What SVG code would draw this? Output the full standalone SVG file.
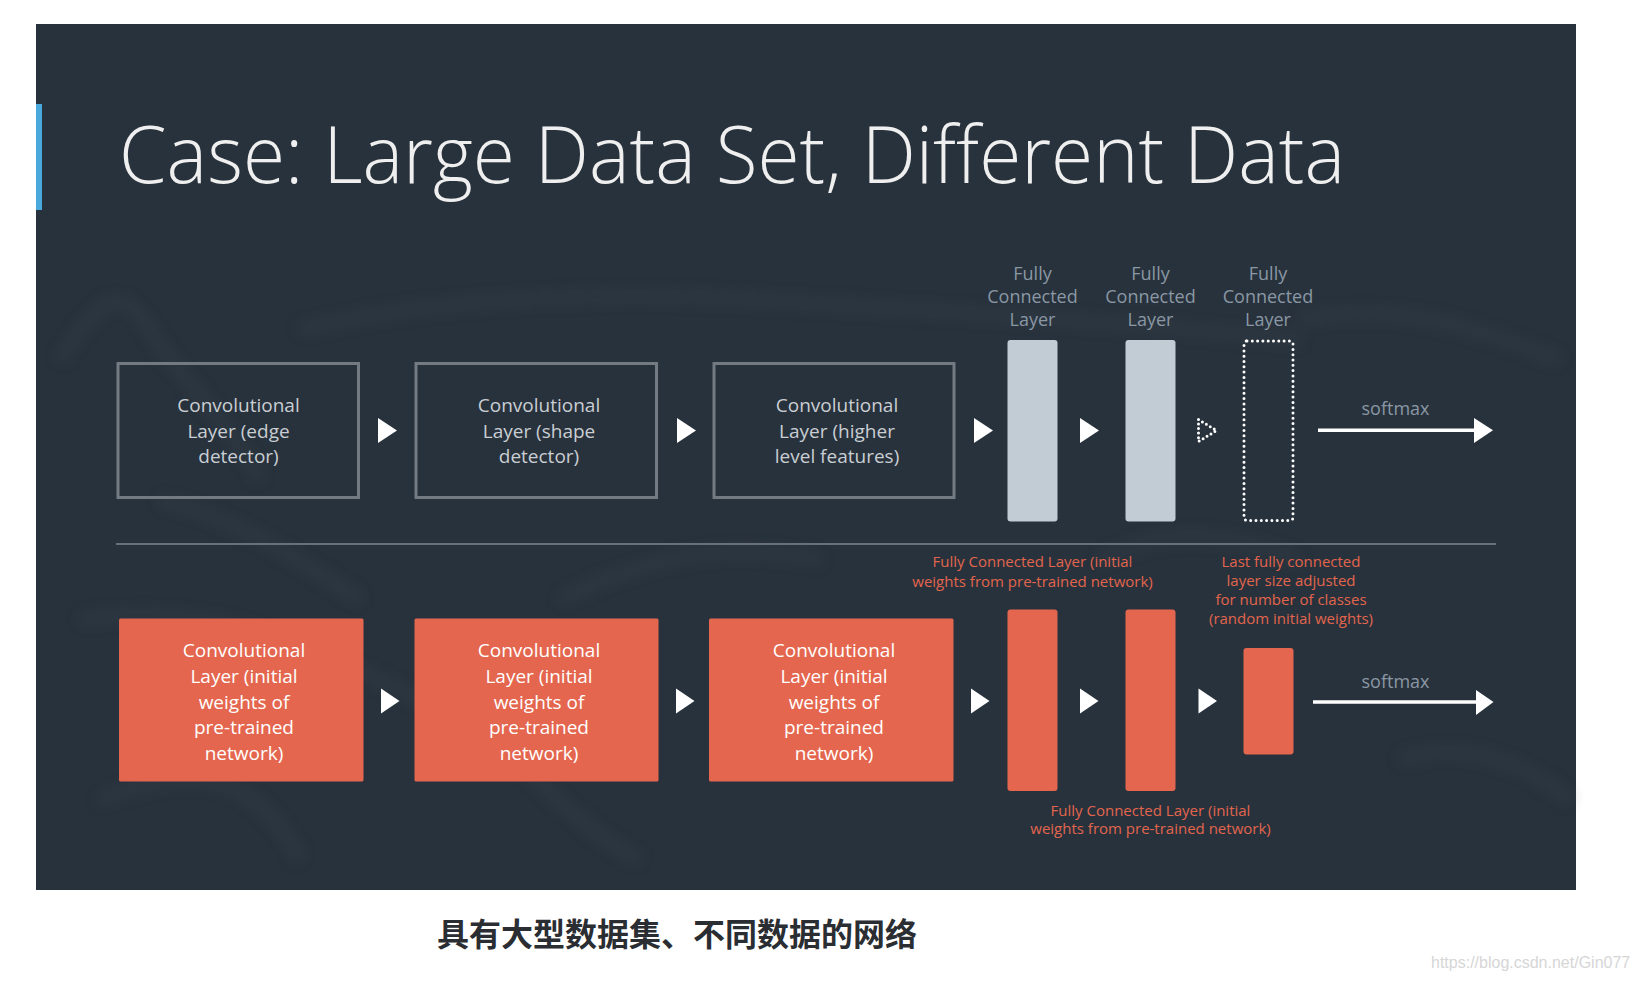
<svg xmlns="http://www.w3.org/2000/svg" width="1636" height="982" viewBox="0 0 1636 982">
  <defs>
    <style>
      .t { font-family: "Open Sans", "Noto Sans", "Liberation Sans", sans-serif; text-anchor: middle; }
      .conv-top { font-size: 19px; fill: #c9ced3; }
      .conv-bot { font-size: 19px; fill: #ffffff; }
      .fc-lbl { font-size: 18px; fill: #8a97a4; }
      .org-lbl { font-size: 15px; fill: #e2654d; }
      .box-out { fill: none; stroke: #737a81; stroke-width: 3; }
      .box-org { fill: #e4664e; }
      .bar-l { fill: #c2ccd5; }
      .tri { fill: #ffffff; }
      .line { stroke: #ffffff; stroke-width: 3.5; fill: none; }
      .dots { fill: none; stroke: #ffffff; stroke-width: 3; stroke-linecap: round; stroke-dasharray: 0 5.3; }
    </style>
    <filter id="blur" x="-10%" y="-10%" width="120%" height="120%">
      <feGaussianBlur stdDeviation="7"/>
    </filter>
  </defs>

  <rect x="0" y="0" width="1636" height="982" fill="#ffffff"/>

  <!-- slide panel -->
  <g id="panel">
    <rect x="36" y="24" width="1540" height="866" fill="#28323c"/>
    <g filter="url(#blur)" fill="none" stroke="#35404b" stroke-width="9" opacity="0.55">
      <path d="M60 360 C 100 300, 120 280, 150 330 S 230 420, 260 480"/>
      <path d="M300 330 C 420 300, 600 290, 760 300 S 1100 320, 1300 340"/>
      <path d="M80 620 C 200 600, 300 640, 420 700 S 560 820, 640 860"/>
      <path d="M560 600 C 640 560, 720 540, 820 560"/>
      <path d="M1300 320 C 1400 300, 1480 330, 1560 360"/>
      <path d="M1100 560 C 1180 520, 1240 540, 1300 560"/>
      <path d="M160 500 C 240 520, 300 560, 360 600"/>
      <path d="M1400 760 C 1460 740, 1520 760, 1570 800"/>
      <path d="M100 800 C 200 760, 260 780, 300 860"/>
    </g>
    <rect x="36" y="104" width="6" height="106" fill="#4aa9dc"/>
  </g>

  <!-- title -->
  <g id="title">
    <text x="119" y="183" font-family="'Open Sans', 'Noto Sans', 'Liberation Sans', sans-serif" font-weight="300" font-size="80" fill="#efefef" textLength="1226" lengthAdjust="spacingAndGlyphs">Case: Large Data Set, Different Data</text>
  </g>

  <!-- top row nodes -->
  <g id="top-conv1">
    <rect class="box-out" x="118" y="363.5" width="240.5" height="134"/>
    <text class="t conv-top" x="238.5" y="412">Convolutional</text>
    <text class="t conv-top" x="238.5" y="437.5">Layer (edge</text>
    <text class="t conv-top" x="238.5" y="463">detector)</text>
  </g>
  <g id="top-conv2">
    <rect class="box-out" x="416" y="363.5" width="240.5" height="134"/>
    <text class="t conv-top" x="539" y="412">Convolutional</text>
    <text class="t conv-top" x="539" y="437.5">Layer (shape</text>
    <text class="t conv-top" x="539" y="463">detector)</text>
  </g>
  <g id="top-conv3">
    <rect class="box-out" x="714" y="363.5" width="240" height="134"/>
    <text class="t conv-top" x="837" y="412">Convolutional</text>
    <text class="t conv-top" x="837" y="437.5">Layer (higher</text>
    <text class="t conv-top" x="837" y="463">level features)</text>
  </g>
  <g id="top-fc1">
    <text class="t fc-lbl" x="1032.5" y="280">Fully</text>
    <text class="t fc-lbl" x="1032.5" y="303">Connected</text>
    <text class="t fc-lbl" x="1032.5" y="326">Layer</text>
    <rect class="bar-l" x="1007.5" y="340" width="50" height="181.5" rx="3"/>
  </g>
  <g id="top-fc2">
    <text class="t fc-lbl" x="1150.5" y="280">Fully</text>
    <text class="t fc-lbl" x="1150.5" y="303">Connected</text>
    <text class="t fc-lbl" x="1150.5" y="326">Layer</text>
    <rect class="bar-l" x="1125.5" y="340" width="50" height="181.5" rx="3"/>
  </g>
  <g id="top-fc3">
    <text class="t fc-lbl" x="1268" y="280">Fully</text>
    <text class="t fc-lbl" x="1268" y="303">Connected</text>
    <text class="t fc-lbl" x="1268" y="326">Layer</text>
    <rect class="dots" x="1244" y="341" width="49" height="179.5" rx="3"/>
  </g>
  <g id="top-softmax">
    <text class="t fc-lbl" x="1395.5" y="415">softmax</text>
  </g>

  <!-- divider -->
  <line x1="116" y1="544" x2="1496" y2="544" stroke="#68717a" stroke-width="2"/>

  <!-- bottom row nodes -->
  <g id="bot-conv1">
    <rect class="box-org" x="119" y="618.5" width="244.5" height="163" rx="1.5"/>
    <text class="t conv-bot" x="244" y="657">Convolutional</text>
    <text class="t conv-bot" x="244" y="683">Layer (initial</text>
    <text class="t conv-bot" x="244" y="708.5">weights of</text>
    <text class="t conv-bot" x="244" y="734">pre-trained</text>
    <text class="t conv-bot" x="244" y="759.5">network)</text>
  </g>
  <g id="bot-conv2">
    <rect class="box-org" x="414.5" y="618.5" width="244" height="163" rx="1.5"/>
    <text class="t conv-bot" x="539" y="657">Convolutional</text>
    <text class="t conv-bot" x="539" y="683">Layer (initial</text>
    <text class="t conv-bot" x="539" y="708.5">weights of</text>
    <text class="t conv-bot" x="539" y="734">pre-trained</text>
    <text class="t conv-bot" x="539" y="759.5">network)</text>
  </g>
  <g id="bot-conv3">
    <rect class="box-org" x="709" y="618.5" width="244.5" height="163" rx="1.5"/>
    <text class="t conv-bot" x="834" y="657">Convolutional</text>
    <text class="t conv-bot" x="834" y="683">Layer (initial</text>
    <text class="t conv-bot" x="834" y="708.5">weights of</text>
    <text class="t conv-bot" x="834" y="734">pre-trained</text>
    <text class="t conv-bot" x="834" y="759.5">network)</text>
  </g>
  <g id="bot-fc-label-top">
    <text class="t org-lbl" x="1032.5" y="567.3">Fully Connected Layer (initial</text>
    <text class="t org-lbl" x="1032.5" y="586.7">weights from pre-trained network)</text>
  </g>
  <g id="bot-fc1">
    <rect class="box-org" x="1007.5" y="609.5" width="50" height="181.5" rx="3"/>
  </g>
  <g id="bot-fc2">
    <rect class="box-org" x="1125.5" y="609.5" width="50" height="181.5" rx="3"/>
  </g>
  <g id="bot-fc-label-bottom">
    <text class="t org-lbl" x="1150.5" y="815.7">Fully Connected Layer (initial</text>
    <text class="t org-lbl" x="1150.5" y="834">weights from pre-trained network)</text>
  </g>
  <g id="bot-fc3">
    <text class="t org-lbl" x="1291" y="567.3">Last fully connected</text>
    <text class="t org-lbl" x="1291" y="586.2">layer size adjusted</text>
    <text class="t org-lbl" x="1291" y="605">for number of classes</text>
    <text class="t org-lbl" x="1291" y="623.6">(random initial weights)</text>
    <rect class="box-org" x="1243.5" y="648" width="50" height="106.5" rx="3"/>
  </g>
  <g id="bot-softmax">
    <text class="t fc-lbl" x="1395.5" y="687.7">softmax</text>
  </g>

  <!-- connectors -->
  <g id="connectors">
    <polygon class="tri" points="378,418 397,430.5 378,443"/>
    <polygon class="tri" points="677,418 696,430.5 677,443"/>
    <polygon class="tri" points="974,418 993,430.5 974,443"/>
    <polygon class="tri" points="1080,418 1099,430.5 1080,443"/>
    <polygon class="dots" points="1198.5,419.5 1216.5,430.5 1198.5,441.5" stroke-width="2.6" style="stroke-dasharray:0 4.6"/>
    <line class="line" x1="1318" y1="430.3" x2="1476" y2="430.3"/>
    <polygon class="tri" points="1474,418 1493,430.3 1474,443"/>

    <polygon class="tri" points="381,688.5 399.5,701 381,713.5"/>
    <polygon class="tri" points="676,688.5 694.5,701 676,713.5"/>
    <polygon class="tri" points="971,688.5 989.5,701 971,713.5"/>
    <polygon class="tri" points="1080,688.5 1098.5,701 1080,713.5"/>
    <polygon class="tri" points="1198.5,688.5 1217,701 1198.5,713.5"/>
    <line class="line" x1="1313" y1="702" x2="1478" y2="702"/>
    <polygon class="tri" points="1476,690 1493.5,702 1476,715"/>
  </g>

  <!-- caption -->
  <g id="caption">
    <text x="437" y="946" font-family="'Noto Sans CJK SC', 'Noto Sans', sans-serif" font-weight="700" font-size="32" fill="#2a2e33">具有大型数据集、不同数据的网络</text>
    <text x="1431" y="967.5" font-family="'Liberation Sans', Arial, sans-serif" font-size="16" fill="#d6d6d6">https://blog.csdn.net/Gin077</text>
  </g>
</svg>
